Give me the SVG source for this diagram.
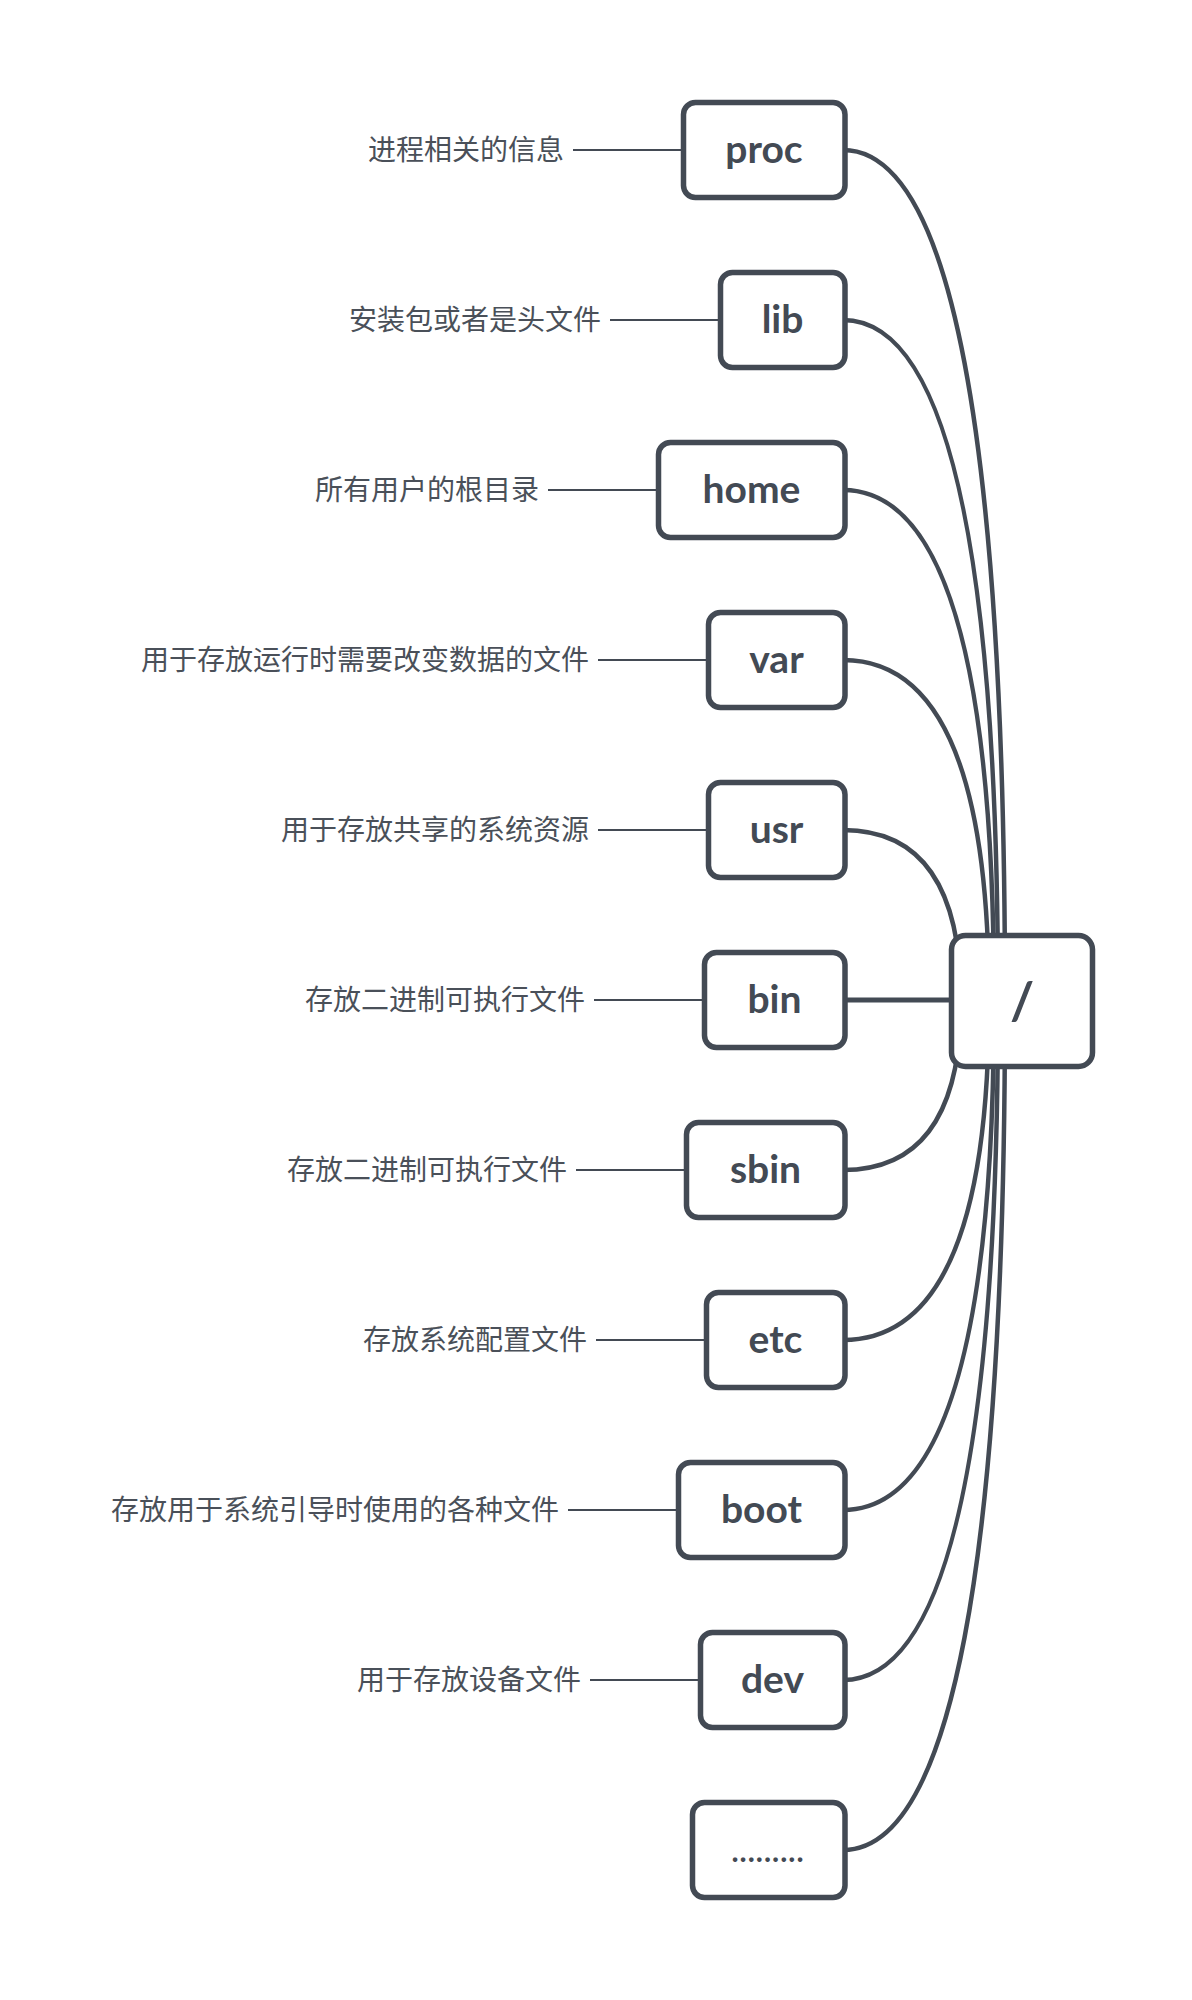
<svg xmlns="http://www.w3.org/2000/svg" width="1192" height="2000" viewBox="0 0 1192 2000">
<style>
.box{fill:#fff;stroke:#434a54;stroke-width:5.5}
.nt{font-family:Lato,"Open Sans",sans-serif;font-weight:bold;font-size:39px;fill:#434a54;text-anchor:middle}
.lb{font-family:"Noto Sans CJK SC","Noto Sans",sans-serif;font-size:28px;fill:#4a5059;text-anchor:end}
.ll{stroke:#434a54;stroke-width:2;fill:none}
.cv{stroke:#434a54;stroke-width:4.5;fill:none;stroke-linecap:round}
</style>
<rect width="1192" height="2000" fill="#fff"/>
<g id="connectors">
<path class="cv" d="M843 150 Q1005 150 1005 1001"/>
<path class="cv" d="M843 320 Q998 320 998 1001"/>
<path class="cv" d="M843 490 Q994 490 994 1001"/>
<path class="cv" d="M843 660 Q989 660 989 1001"/>
<path class="cv" d="M843 830 Q961 830 961 1001"/>
<path class="cv" d="M843 1000 L955 1000" style="stroke-width:5"/>
<path class="cv" d="M843 1170 Q961 1170 961 1001"/>
<path class="cv" d="M843 1340 Q989 1340 989 1001"/>
<path class="cv" d="M843 1510 Q994 1510 994 1001"/>
<path class="cv" d="M843 1680 Q998 1680 998 1001"/>
<path class="cv" d="M843 1850 Q1005 1850 1005 1001"/>
<line class="ll" x1="573" y1="150" x2="681" y2="150"/>
<line class="ll" x1="610" y1="320" x2="718" y2="320"/>
<line class="ll" x1="548" y1="490" x2="656" y2="490"/>
<line class="ll" x1="598" y1="660" x2="706" y2="660"/>
<line class="ll" x1="598" y1="830" x2="706" y2="830"/>
<line class="ll" x1="594" y1="1000" x2="702" y2="1000"/>
<line class="ll" x1="576" y1="1170" x2="684" y2="1170"/>
<line class="ll" x1="596" y1="1340" x2="704" y2="1340"/>
<line class="ll" x1="568" y1="1510" x2="676" y2="1510"/>
<line class="ll" x1="590" y1="1680" x2="698" y2="1680"/>
</g>
<g id="root"><rect class="box" x="951.5" y="935.5" width="141" height="131" rx="14"/><text class="nt" x="1022" y="1019" style="font-size:52px">/</text></g>
<g id="proc"><rect class="box" x="683.5" y="102.5" width="161.5" height="95" rx="12"/><text class="nt" x="764" y="163">proc</text><text class="lb" x="564" y="160">进程相关的信息</text></g>
<g id="lib"><rect class="box" x="720.5" y="272.5" width="124.5" height="95" rx="12"/><text class="nt" x="782.5" y="333">lib</text><text class="lb" x="601" y="330">安装包或者是头文件</text></g>
<g id="home"><rect class="box" x="658.5" y="442.5" width="186.5" height="95" rx="12"/><text class="nt" x="751.5" y="503">home</text><text class="lb" x="539" y="500">所有用户的根目录</text></g>
<g id="var"><rect class="box" x="708.5" y="612.5" width="136.5" height="95" rx="12"/><text class="nt" x="776.5" y="673">var</text><text class="lb" x="589" y="670">用于存放运行时需要改变数据的文件</text></g>
<g id="usr"><rect class="box" x="708.5" y="782.5" width="136.5" height="95" rx="12"/><text class="nt" x="776.5" y="843">usr</text><text class="lb" x="589" y="840">用于存放共享的系统资源</text></g>
<g id="bin"><rect class="box" x="704.5" y="952.5" width="140.5" height="95" rx="12"/><text class="nt" x="774.5" y="1013">bin</text><text class="lb" x="585" y="1010">存放二进制可执行文件</text></g>
<g id="sbin"><rect class="box" x="686.5" y="1122.5" width="158.5" height="95" rx="12"/><text class="nt" x="765.5" y="1183">sbin</text><text class="lb" x="567" y="1180">存放二进制可执行文件</text></g>
<g id="etc"><rect class="box" x="706.5" y="1292.5" width="138.5" height="95" rx="12"/><text class="nt" x="775.5" y="1353">etc</text><text class="lb" x="587" y="1350">存放系统配置文件</text></g>
<g id="boot"><rect class="box" x="678.5" y="1462.5" width="166.5" height="95" rx="12"/><text class="nt" x="761.5" y="1523">boot</text><text class="lb" x="559" y="1520">存放用于系统引导时使用的各种文件</text></g>
<g id="dev"><rect class="box" x="700.5" y="1632.5" width="144.5" height="95" rx="12"/><text class="nt" x="772.5" y="1693">dev</text><text class="lb" x="581" y="1690">用于存放设备文件</text></g>
<g id="more"><rect class="box" x="692.5" y="1802.5" width="152.5" height="95" rx="12"/><text class="nt" x="768" y="1862" style="font-size:30px;letter-spacing:1px">.........</text></g>
</svg>
